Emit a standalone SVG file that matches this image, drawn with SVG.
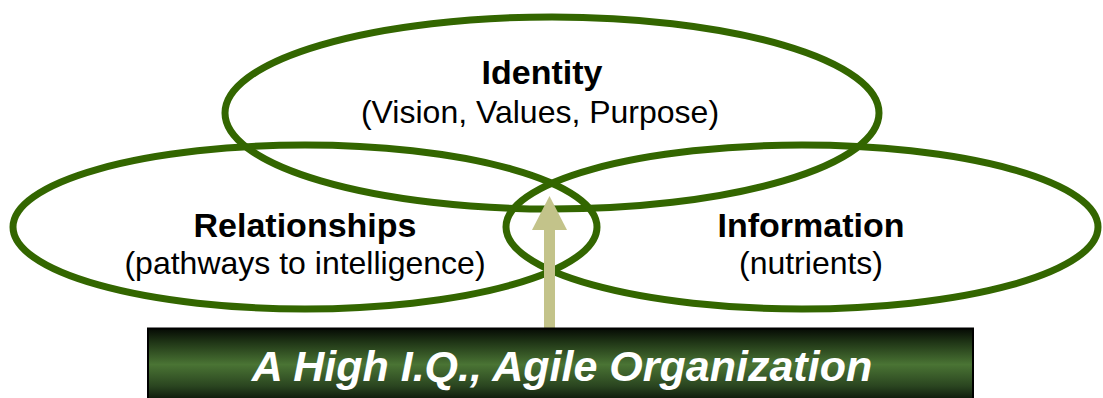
<svg xmlns="http://www.w3.org/2000/svg" width="1103" height="398" viewBox="0 0 1103 398">
<defs>
<linearGradient id="barGrad" x1="0" y1="0" x2="0" y2="1">
<stop offset="0" stop-color="#050a04"/>
<stop offset="0.18" stop-color="#1e3315"/>
<stop offset="0.5" stop-color="#4a7434"/>
<stop offset="0.8" stop-color="#2a4520"/>
<stop offset="1" stop-color="#0c160a"/>
</linearGradient>
</defs>
<style>
.ring{fill:none;stroke:#336600;stroke-width:7}
.t{font-family:"Liberation Sans",Arial,sans-serif;text-anchor:middle;fill:#000}
.b{font-weight:bold;font-size:34px}
.r{font-size:32px}
.bar{font-family:"Liberation Sans",Arial,sans-serif;font-weight:bold;font-style:italic;font-size:43px;fill:#fff;text-anchor:middle}
</style>
<rect width="1103" height="398" fill="#fff"/>
<g id="identity">
<ellipse class="ring" cx="552" cy="113" rx="327" ry="96"/>
<text class="t b" x="542" y="84">Identity</text>
<text class="t r" x="540" y="123">(Vision, Values, Purpose)</text>
</g>
<g id="relationships">
<ellipse class="ring" cx="305" cy="227" rx="292" ry="82"/>
<text class="t b" x="305" y="237">Relationships</text>
<text class="t r" x="305" y="274">(pathways to intelligence)</text>
</g>
<g id="information">
<ellipse class="ring" cx="802" cy="227" rx="296" ry="82"/>
<text class="t b" x="811" y="237">Information</text>
<text class="t r" x="811" y="274">(nutrients)</text>
</g>
<g id="connectors">
<rect x="544" y="228" width="11" height="101" fill="#c3c38a"/>
<polygon points="549.5,196 532,230 567,230" fill="#c3c38a"/>
</g>
<g id="organization">
<rect x="148" y="328.5" width="825" height="72" fill="url(#barGrad)" stroke="#000" stroke-width="2"/>
<text class="bar" x="562" y="381">A High I.Q., Agile Organization</text>
</g>
</svg>
